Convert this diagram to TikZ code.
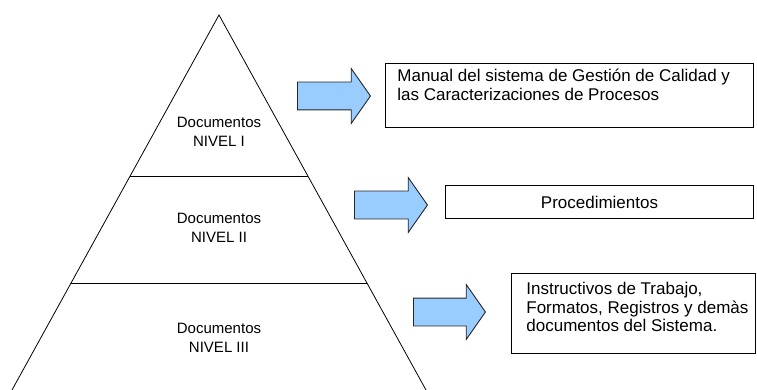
\documentclass[tikz,border=0pt]{standalone}
\usepackage{fontspec}
\setmainfont{Liberation Sans}
\usetikzlibrary{shapes,arrows,positioning,calc}
\definecolor{arrowblue}{RGB}{153,204,255}
\tikzstyle{level} = [align=center, inner sep=0, font=\fontsize{15}{19}\selectfont]
\tikzstyle{bigarrow} = [single arrow, draw=black!85, fill=arrowblue, line width=0.9pt, inner xsep=0pt, inner ysep=13.5pt, minimum height=73pt, single arrow head extend=13.5pt, single arrow tip angle=110]
\tikzstyle{docbox} = [rectangle, draw, line width=1pt, anchor=north west, inner sep=0]
\tikzstyle{boxtext} = [align=left, anchor=north west, inner sep=0, font=\fontsize{17}{18.5}\selectfont]

\begin{document}
\begin{tikzpicture}[x=1pt, y=-1pt, line width=0.8pt]
	\useasboundingbox (0,0) rectangle (757,390);
	%Pyramid
	\coordinate (apex) at (219,15);
	\coordinate (baseL) at (12,390);
	\coordinate (baseR) at (426,390);
	\coordinate (cut1L) at ($(apex)!0.4293!(baseL)$);
	\coordinate (cut1R) at ($(apex)!0.4293!(baseR)$);
	\coordinate (cut2L) at ($(apex)!0.7147!(baseL)$);
	\coordinate (cut2R) at ($(apex)!0.7147!(baseR)$);
	\draw (baseL) -- (apex) -- (baseR);
	\draw (cut1L) -- (cut1R);
	\draw (cut2L) -- (cut2R);

	\node [level] (Nivel1) at (219,132) {Documentos\\NIVEL I};
	\node [level] (Nivel2) at (219,228) {Documentos\\NIVEL II};
	\node [level] (Nivel3) at (219,338) {Documentos\\NIVEL III};

	%Place arrows
	\node [bigarrow, anchor=west] (Arrow1) at (297,96) {};
	\node [bigarrow, anchor=west] (Arrow2) at (354,205) {};
	\node [bigarrow, anchor=west, minimum height=72pt] (Arrow3) at (413,312) {};

	%Place boxes
	\node [docbox, minimum width=368, minimum height=64] (Manual) at (385,63) {};
	\node [boxtext] (ManualText) at ([shift={(12,6)}]Manual.north west) {Manual del sistema de Gestión de Calidad y\\las Caracterizaciones de Procesos};
	\node [docbox, minimum width=308, minimum height=33, font=\fontsize{17}{18.5}\selectfont] (Proc) at (445,185) {Procedimientos};
	\node [docbox, minimum width=244, minimum height=80] (Instr) at (511,273) {};
	\node [boxtext] (InstrText) at ([shift={(15,9)}]Instr.north west) {Instructivos de Trabajo,\\Formatos, Registros y demàs\\documentos del Sistema.};
\end{tikzpicture}
\end{document}
